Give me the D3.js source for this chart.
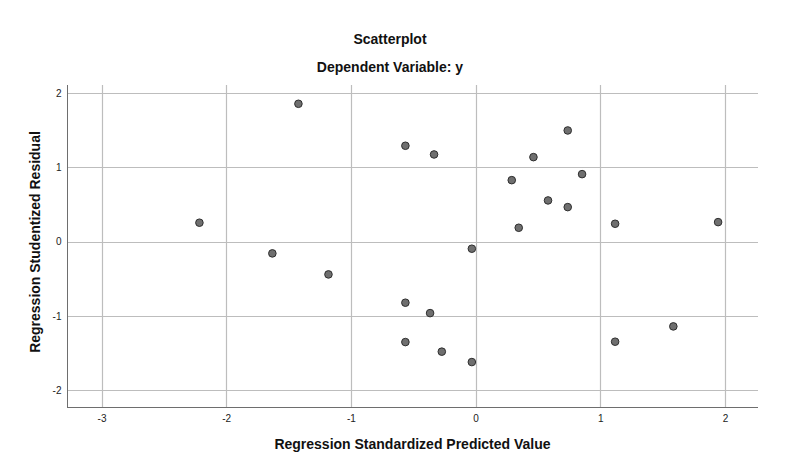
<!DOCTYPE html>
<html><head><meta charset="utf-8">
<script src="https://cdn.jsdelivr.net/npm/d3@7"></script>
<style>body{margin:0;background:#fff}svg{display:block}</style>
</head><body>
<script>
const predicted = [-1.421,-2.215,-1.630,-0.563,-0.333,0.464,0.290,0.581,0.346,-0.030,-1.180,0.739,0.854,0.739,1.119,1.945,-0.563,-0.365,-0.563,-0.271,-0.030,1.586,1.119];
const residual  = [1.857,0.256,-0.157,1.292,1.175,1.139,0.829,0.556,0.188,-0.094,-0.440,1.498,0.910,0.466,0.242,0.264,-0.821,-0.961,-1.351,-1.480,-1.620,-1.140,-1.346];
const xTicks = [-3,-2,-1,0,1,2];
const yTicks = [-2,-1,0,1,2];
const title = "Scatterplot", subtitle = "Dependent Variable: y";
const xLabel = "Regression Standardized Predicted Value";
const yLabel = "Regression Studentized Residual";

const W=800,H=471, L=67,R=758,T=85,B=407;
const svg=d3.select("body").append("svg").attr("width",W).attr("height",H);
const x=d3.scaleLinear().domain([-3.277,2.265]).range([L,R]);
const y=d3.scaleLinear().domain([-2.225,2.11]).range([B,T]);
const font="'Liberation Sans', Arial, sans-serif";

const g=svg.append("g");
g.selectAll("line.vx").data(xTicks).join("line").attr("class","vx")
 .attr("x1",d=>Math.round(x(d))+0.5).attr("x2",d=>Math.round(x(d))+0.5).attr("y1",T).attr("y2",B)
 .attr("stroke","#bdbdbd").attr("stroke-width",1.2);
g.selectAll("line.hy").data(yTicks).join("line").attr("class","hy")
 .attr("y1",d=>Math.round(y(d))+0.5).attr("y2",d=>Math.round(y(d))+0.5).attr("x1",L).attr("x2",R)
 .attr("stroke","#bdbdbd").attr("stroke-width",1.2);

const xa=svg.append("g").attr("transform",`translate(0,${B+0.5})`)
 .call(d3.axisBottom(x).tickValues(xTicks).tickSize(0).tickPadding(7).tickFormat(d=>String(d)));
const ya=svg.append("g").attr("transform",`translate(${L+0.5},0)`)
 .call(d3.axisLeft(y).tickValues(yTicks).tickSize(0).tickPadding(6).tickFormat(d=>String(d)));
[xa,ya].forEach(a=>{
  a.select(".domain").attr("stroke","#6e6e6e").attr("stroke-width",1);
  a.selectAll("text").attr("font-family",font).attr("font-size",10).attr("fill","#222");
});
ya.select(".domain").attr("d",`M0,${T}V${B}`);
xa.select(".domain").attr("d",`M${L},0H${R}`);

svg.append("g").selectAll("circle").data(predicted.map((p,i)=>[p,residual[i]])).join("circle")
 .attr("cx",d=>x(d[0])).attr("cy",d=>y(d[1])).attr("r",3.8)
 .attr("fill","#6f6f6f").attr("stroke","#2e2e2e").attr("stroke-width",1);

svg.append("text").attr("x",390).attr("y",44).attr("text-anchor","middle")
 .attr("font-family",font).attr("font-weight","bold").attr("font-size",14).attr("fill","#111").text(title);
svg.append("text").attr("x",390).attr("y",72).attr("text-anchor","middle")
 .attr("font-family",font).attr("font-weight","bold").attr("font-size",14).attr("fill","#111").text(subtitle);
svg.append("text").attr("x",(L+R)/2).attr("y",449).attr("text-anchor","middle")
 .attr("font-family",font).attr("font-weight","bold").attr("font-size",14).attr("fill","#111").text(xLabel);
svg.append("text").attr("transform",`translate(40,${(T+B)/2-4}) rotate(-90)`).attr("text-anchor","middle")
 .attr("font-family",font).attr("font-weight","bold").attr("font-size",14).attr("fill","#111").text(yLabel);
</script>
</body></html>
